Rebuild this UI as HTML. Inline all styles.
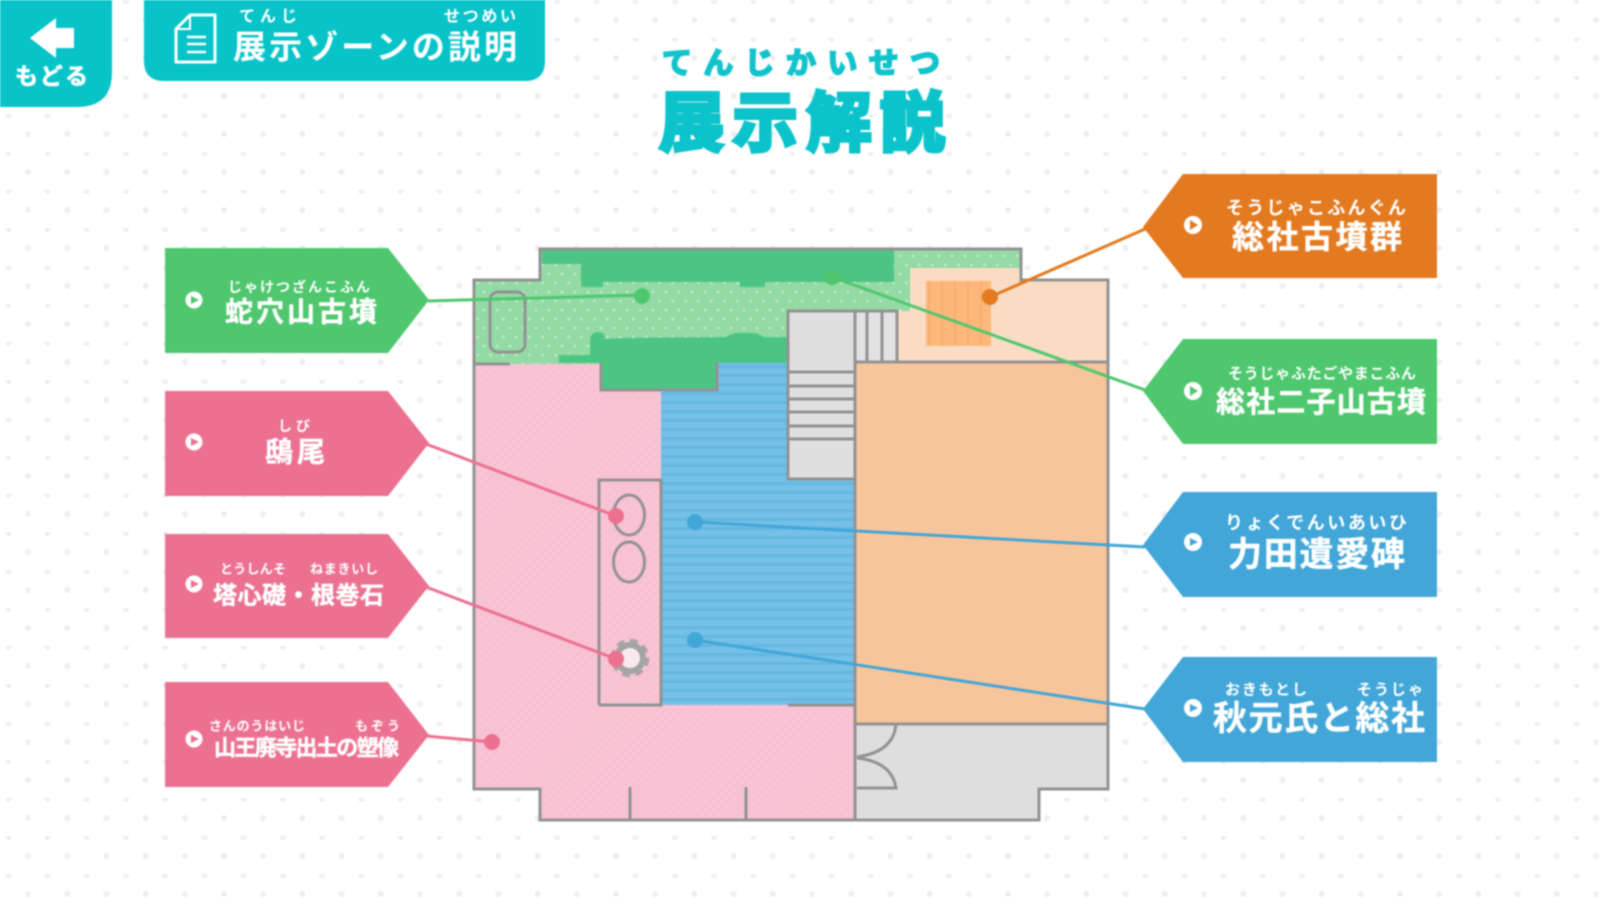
<!DOCTYPE html>
<html lang="ja">
<head>
<meta charset="utf-8">
<title>展示解説</title>
<style>
html,body{margin:0;padding:0;width:1600px;height:900px;overflow:hidden;background:#fff}
svg{display:block;filter:blur(.75px)}
text{font-family:"Liberation Sans","Noto Sans CJK JP",sans-serif;dominant-baseline:central;fill:#fff;font-weight:700}
.t{font-size:28px;stroke:#fff;stroke-width:.4px}
.r{font-size:14px;font-weight:700}
.w{fill:none;stroke:#929292;stroke-width:3}
</style>
</head>
<body>
<svg width="1600" height="900" viewBox="0 0 1600 900" xmlns="http://www.w3.org/2000/svg">
<defs>
<pattern id="bg" width="39.2" height="38" patternUnits="userSpaceOnUse">
<circle cx="28" cy="20" r="3" fill="#eeeff0"/>
<circle cx="8.4" cy="1" r="3" fill="#eeeff0"/>
</pattern>
<pattern id="gd" width="13" height="18" patternUnits="userSpaceOnUse">
<rect width="13" height="18" fill="#94daa5"/>
<circle cx="3" cy="4" r="1.3" fill="#c3edcd"/>
<circle cx="9.5" cy="13" r="1.3" fill="#c3edcd"/>
</pattern>
<pattern id="pk" width="6" height="6" patternUnits="userSpaceOnUse" patternTransform="rotate(45)">
<rect width="6" height="6" fill="#f8c4d4"/>
<rect width="1.5" height="6" fill="#f6bed0"/>
</pattern>
<pattern id="bl" width="8" height="9" patternUnits="userSpaceOnUse">
<rect width="8" height="9" fill="#74c0e8"/>
<rect y="5" width="8" height="3" fill="#64b7e2"/>
</pattern>
<pattern id="or" width="13" height="8" patternUnits="userSpaceOnUse">
<rect width="13" height="8" fill="#fdb77a"/>
<rect x="5" width="2" height="8" fill="#f9ad6e"/>
</pattern>
</defs>

<rect width="1600" height="900" fill="#fff"/>
<rect width="1600" height="900" fill="url(#bg)"/>

<!-- top buttons -->
<path d="M0 0H112V72Q112 107 77 107H0Z" fill="#08c4c9"/>
<polygon points="30,38 56,18 56,28 74,28 74,48 56,48 56,58" fill="#fff"/>
<text x="15" y="76" font-size="23" textLength="73" lengthAdjust="spacing" style="stroke:#fff;stroke-width:.6px">もどる</text>

<path d="M144 0H545V61Q545 81 525 81H164Q144 81 144 61Z" fill="#08c4c9"/>
<path d="M190 15H215V62H176V29Z" fill="none" stroke="#fff" stroke-width="3" stroke-linejoin="round"/>
<path d="M190 15V29H176" fill="none" stroke="#fff" stroke-width="2"/>
<path d="M187 37H206M187 44H206M187 52H206" stroke="#fff" stroke-width="2.5"/>
<text x="233" y="47" font-size="33" textLength="284" lengthAdjust="spacing" style="font-weight:700">展示ゾーンの説明</text>
<text x="239" y="17" font-size="16" textLength="58" lengthAdjust="spacing">てんじ</text>
<text x="444" y="17" font-size="16" textLength="72" lengthAdjust="spacing">せつめい</text>

<!-- title -->
<text x="662" y="64" font-size="30" textLength="278" lengthAdjust="spacing" style="fill:#12c3cc;stroke:#12c3cc;stroke-width:2px">てんじかいせつ</text>
<text x="659" y="123" font-size="65" textLength="286" lengthAdjust="spacing" style="fill:#0dc3cb;stroke:#0dc3cb;stroke-width:4px">展示解説</text>

<!-- floor plan fills -->
<polygon points="474,280 540,280 540,249 1021,249 1021,268 910,268 910,311 788,311 788,364 474,364" fill="url(#gd)"/>
<polygon points="474,364 601,364 601,390 661,390 661,705 855,705 855,820 540,820 540,789 474,789" fill="url(#pk)"/>
<polygon points="661,363 788,363 788,479 855,479 855,705 661,705" fill="url(#bl)"/>
<rect x="855" y="362" width="253" height="362" fill="#f7c59b"/>
<polygon points="910,268 1021,268 1021,280 1108,280 1108,362 897,362 897,311 910,311" fill="#f9dcc3"/>
<rect x="926" y="281" width="65" height="65" fill="url(#or)"/>
<rect x="788" y="312" width="67" height="167" fill="#dfdfdf"/>
<rect x="855" y="312" width="42" height="50" fill="#e2e2e2"/>
<polygon points="855,724 1108,724 1108,789 1039,789 1039,820 855,820" fill="#dedede"/>

<!-- dark green -->
<polygon points="542,250 894,250 894,282 765,282 765,287 740,287 740,282 603,282 603,287 581,287 581,264 542,264" fill="#4cc584"/>
<path d="M601 339L625 338L725 337L735 333L755 333L765 337H788V363H717V390H601V363H559V355H590V342Q590 332 598 332Q605 332 605 338Z" fill="#4cc584"/>

<!-- walls -->
<path class="w" d="M474 280H540V249H1021V280H1108V789H1039V820H540V789H474Z"/>
<path class="w" d="M474 364H510M601 363V390H717V363"/>
<rect class="w" x="490" y="292" width="35" height="60" rx="8"/>
<path class="w" d="M788 364V311H897V362M855 311V820M855 362H1108M855 724H1108M788 311V479H855"/>
<path class="w" d="M867 311V362M882 311V362M788 372H855M788 386H855M788 399H855M788 412H855M788 426H855M788 439H855"/>
<path class="w" d="M599 705V480H661V705H599M788 705H855"/>
<path d="M661 480V705" stroke="#929292" stroke-width="1.5"/>
<ellipse class="w" cx="629" cy="515" rx="15.5" ry="20"/>
<ellipse class="w" cx="629" cy="562" rx="15.5" ry="20"/>
<path class="w" d="M630 787V820M746 787V820"/>
<path class="w" d="M896 725Q893 752 857 757M857 758Q892 762 896 788H857"/>
<circle cx="630" cy="658" r="17.5" fill="none" stroke="#a6a6a6" stroke-width="3.5" stroke-dasharray="8 5.7"/>
<circle cx="630" cy="658" r="13" fill="#f9e9ee" stroke="#a4a4a4" stroke-width="6"/>

<!-- connectors -->
<g fill="none" stroke-width="3">
<path d="M428 301L642 295M1145 390L832 277" stroke="#4fc76e"/>
<path d="M1145 229L990 297" stroke="#e37a20"/>
<path d="M426 444L616 516M426 587L616 659M426 736L492 742" stroke="#ec7191"/>
<path d="M1145 547L695 522M1145 709L695 640" stroke="#42a6d8"/>
</g>
<g>
<ellipse cx="642" cy="296" rx="8" ry="8" fill="#4fc76e"/>
<ellipse cx="832" cy="277" rx="8" ry="8" fill="#4fc76e"/>
<ellipse cx="990" cy="297" rx="8" ry="8" fill="#e37a20"/>
<ellipse cx="616" cy="516" rx="8" ry="8" fill="#ec7191"/>
<ellipse cx="616" cy="659" rx="8" ry="8" fill="#ec7191"/>
<ellipse cx="492" cy="742" rx="8" ry="8" fill="#ec7191"/>
<ellipse cx="695" cy="522" rx="8" ry="8" fill="#42a6d8"/>
<ellipse cx="695" cy="640" rx="8" ry="8" fill="#42a6d8"/>
</g>

<!-- left labels -->
<polygon points="165,248 388,248 429,300 388,353 165,353" fill="#4fc76e"/>
<polygon points="165,391 388,391 429,443 388,496 165,496" fill="#ec7191"/>
<polygon points="165,534 388,534 429,586 388,638 165,638" fill="#ec7191"/>
<polygon points="165,682 388,682 429,735 388,787 165,787" fill="#ec7191"/>
<!-- right labels -->
<polygon points="1437,174 1183,174 1143,227 1183,278 1437,278" fill="#e37a20"/>
<polygon points="1437,339 1183,339 1143,391 1183,444 1437,444" fill="#4fc76e"/>
<polygon points="1437,492 1183,492 1143,545 1183,597 1437,597" fill="#42a6d8"/>
<polygon points="1437,657 1183,657 1143,709 1183,762 1437,762" fill="#42a6d8"/>

<!-- bullets -->
<g fill="#fff">
<circle cx="194" cy="300" r="8.5"/><circle cx="194" cy="442" r="8.5"/><circle cx="194" cy="584" r="8.5"/><circle cx="194" cy="739" r="8.5"/>
<circle cx="1193" cy="225" r="9"/><circle cx="1193" cy="391" r="9"/><circle cx="1193" cy="542" r="9"/><circle cx="1193" cy="708" r="9"/>
</g>
<polygon points="191,296 199,300 191,304" fill="#4fc76e"/>
<polygon points="191,438 199,442 191,446" fill="#ec7191"/>
<polygon points="191,580 199,584 191,588" fill="#ec7191"/>
<polygon points="191,735 199,739 191,743" fill="#ec7191"/>
<polygon points="1190,220 1198,225 1190,230" fill="#e37a20"/>
<polygon points="1190,386 1198,391 1190,396" fill="#4fc76e"/>
<polygon points="1190,538 1198,542 1190,546" fill="#42a6d8"/>
<polygon points="1190,704 1198,708 1190,712" fill="#42a6d8"/>

<!-- label text -->
<text class="r" x="228" y="287" textLength="142" lengthAdjust="spacing">じゃけつざんこふん</text>
<text class="t" x="225" y="312" textLength="152" lengthAdjust="spacing">蛇穴山古墳</text>

<text class="r" x="278" y="426" textLength="32" lengthAdjust="spacing">しび</text>
<text class="t" x="265" y="452" textLength="60" lengthAdjust="spacing">鴟尾</text>

<text class="r" x="220" y="569" style="font-size:13px" textLength="66" lengthAdjust="spacing">とうしんそ</text>
<text class="r" x="310" y="569" style="font-size:13px" textLength="68" lengthAdjust="spacing">ねまきいし</text>
<text class="t" x="213" y="596" style="font-size:24px" textLength="171" lengthAdjust="spacing">塔心礎・根巻石</text>

<text class="r" x="209" y="726" style="font-size:13px" textLength="96" lengthAdjust="spacing">さんのうはいじ</text>
<text class="r" x="355" y="726" style="font-size:13px" textLength="45" lengthAdjust="spacing">もぞう</text>
<text class="t" x="214" y="748" style="font-size:22px" textLength="185" lengthAdjust="spacing">山王廃寺出土の塑像</text>

<text class="r" x="1226" y="208" style="font-size:18px" textLength="180" lengthAdjust="spacing">そうじゃこふんぐん</text>
<text class="t" x="1232" y="237" style="font-size:32px" textLength="170" lengthAdjust="spacing">総社古墳群</text>

<text class="r" x="1228" y="374" style="font-size:15px" textLength="188" lengthAdjust="spacing">そうじゃふたごやまこふん</text>
<text class="t" x="1216" y="403" style="font-size:29px" textLength="210" lengthAdjust="spacing">総社二子山古墳</text>

<text class="r" x="1225" y="523" style="font-size:18px" textLength="182" lengthAdjust="spacing">りょくでんいあいひ</text>
<text class="t" x="1228" y="555" style="font-size:34px" textLength="177" lengthAdjust="spacing">力田遺愛碑</text>

<text class="r" x="1225" y="690" style="font-size:15px" textLength="82" lengthAdjust="spacing">おきもとし</text>
<text class="r" x="1357" y="690" style="font-size:15px" textLength="66" lengthAdjust="spacing">そうじゃ</text>
<text class="t" x="1213" y="719" style="font-size:34px" textLength="212" lengthAdjust="spacing">秋元氏と総社</text>
</svg>
</body>
</html>
